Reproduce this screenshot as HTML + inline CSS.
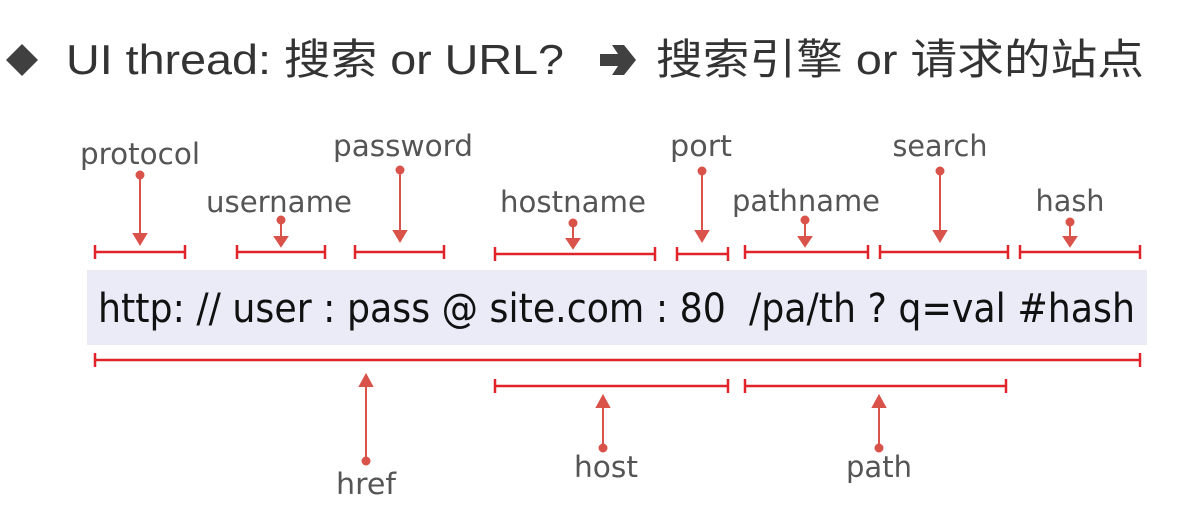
<!DOCTYPE html>
<html><head><meta charset="utf-8"><style>
html,body{margin:0;padding:0;background:#fff;}
svg{display:block;}
</style></head><body>
<svg width="1184" height="514" viewBox="0 0 1184 514" xmlns="http://www.w3.org/2000/svg">
<rect width="1184" height="514" fill="#fff"/>
<polygon points="22,44 38,60 22,76 6,60" fill="#404040"/>
<text x="66" y="74" font-family="Liberation Sans, 'Noto Sans CJK SC', sans-serif" font-size="42" fill="#333" textLength="498" lengthAdjust="spacingAndGlyphs">UI thread: 搜索 or URL?</text>
<path d="M600 54 L618 54 L612 45 L624 45 L636 60 L624 75 L612 75 L618 66 L600 66 Z" fill="#404040"/>
<text x="656" y="74" font-family="Liberation Sans, 'Noto Sans CJK SC', sans-serif" font-size="42" fill="#333" textLength="488" lengthAdjust="spacingAndGlyphs">搜索引擎 or 请求的站点</text>

<rect x="87" y="270" width="1060" height="75" fill="#ebebf8"/>
<text x="98" y="322" font-family="DejaVu Sans, sans-serif" font-size="40" fill="#111" textLength="1037" lengthAdjust="spacingAndGlyphs">http: // user : pass @ site.com : 80&#160; /pa/th ? q=val #hash</text>

<g stroke="#e0242a" stroke-width="2.5" fill="none">
<path d="M95 252H185M95 245V259M185 245V259"/>
<path d="M237 252H325M237 245V259M325 245V259"/>
<path d="M355 252H444M355 245V259M444 245V259"/>
<path d="M495 254H655M495 247V261M655 247V261"/>
<path d="M677 254H728M677 247V261M728 247V261"/>
<path d="M745 252H868M745 245V259M868 245V259"/>
<path d="M880 252H1008M880 245V259M1008 245V259"/>
<path d="M1020 252H1140M1020 245V259M1140 245V259"/>
<path d="M95 360H1140M95 353V367M1140 353V367"/>
<path d="M495 386H728M495 379V393M728 379V393"/>
<path d="M745 386H1006M745 379V393M1006 379V393"/>
</g>

<g stroke="#d9534a" stroke-width="2" fill="#d9534a">
<line x1="140" y1="175" x2="140" y2="234"/><circle cx="140" cy="175" r="3.5"/><polygon points="134,234 146,234 140,244"/>
<line x1="281" y1="220" x2="281" y2="238"/><circle cx="281" cy="220" r="3.5"/><polygon points="275,237 287,237 281,246"/>
<line x1="400" y1="170" x2="400" y2="232"/><circle cx="400" cy="170" r="3.5"/><polygon points="394,231 406,231 400,241"/>
<line x1="573" y1="223" x2="573" y2="240"/><circle cx="573" cy="223" r="3.5"/><polygon points="567,239 579,239 573,248"/>
<line x1="702" y1="171" x2="702" y2="232"/><circle cx="702" cy="171" r="3.5"/><polygon points="696,231 708,231 702,241"/>
<line x1="805" y1="220" x2="805" y2="238"/><circle cx="805" cy="220" r="3.5"/><polygon points="799,237 811,237 805,246"/>
<line x1="940" y1="171" x2="940" y2="232"/><circle cx="940" cy="171" r="3.5"/><polygon points="934,231 946,231 940,241"/>
<line x1="1070" y1="222" x2="1070" y2="238"/><circle cx="1070" cy="222" r="3.5"/><polygon points="1064,237 1076,237 1070,246"/>
<line x1="366" y1="384" x2="366" y2="461"/><circle cx="366" cy="461" r="3.5"/><polygon points="360,386 372,386 366,375"/>
<line x1="603" y1="406" x2="603" y2="448"/><circle cx="603" cy="448" r="3.5"/><polygon points="597,407 609,407 603,396"/>
<line x1="879" y1="406" x2="879" y2="448"/><circle cx="879" cy="448" r="3.5"/><polygon points="873,407 885,407 879,396"/>
</g>

<g font-family="DejaVu Sans, sans-serif" font-size="29" fill="#555" text-anchor="middle">
<text x="140" y="164" textLength="120" lengthAdjust="spacingAndGlyphs">protocol</text>
<text x="279" y="212" textLength="146" lengthAdjust="spacingAndGlyphs">username</text>
<text x="403" y="156" textLength="140" lengthAdjust="spacingAndGlyphs">password</text>
<text x="573" y="212" textLength="146" lengthAdjust="spacingAndGlyphs">hostname</text>
<text x="701" y="156" textLength="62" lengthAdjust="spacingAndGlyphs">port</text>
<text x="806" y="211" textLength="148" lengthAdjust="spacingAndGlyphs">pathname</text>
<text x="940" y="156" textLength="95" lengthAdjust="spacingAndGlyphs">search</text>
<text x="1070" y="211" textLength="69" lengthAdjust="spacingAndGlyphs">hash</text>
<text x="366" y="494" textLength="60" lengthAdjust="spacingAndGlyphs">href</text>
<text x="606" y="477" textLength="64" lengthAdjust="spacingAndGlyphs">host</text>
<text x="879" y="477" textLength="66" lengthAdjust="spacingAndGlyphs">path</text>
</g>
</svg>
</body></html>
